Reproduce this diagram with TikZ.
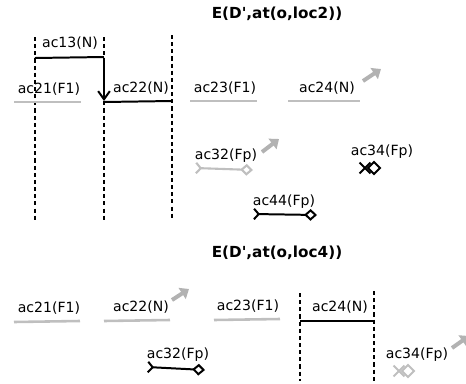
\documentclass[tikz,border=0pt]{standalone}
\usepackage{fontspec}
\setmainfont{DejaVu Sans}[Ligatures=TeXOff]
\usetikzlibrary{positioning,arrows.meta,shapes.geometric,shapes.misc}
\tikzset{
    lbl/.style={font=\fontsize{12}{14}\selectfont,inner sep=1pt},
    ttl/.style={font=\fontsize{13}{15}\selectfont\bfseries,inner sep=1pt},
    act/.style={line width=1.7pt,black},
    inact/.style={line width=2.2pt,black!25},
    life/.style={line width=1.8pt,dash pattern=on 3.5pt off 2.6pt},
    hint/.style={-{Triangle[length=7pt,width=11pt]},line width=3.4pt,black!30},
    fp/.style={{Straight Barb[reversed,length=4pt,width=9pt]}-{Diamond[open,length=11pt,width=10pt]}},
    xmark/.style={cross out,draw,line width=1.7pt,minimum size=7.5pt,inner sep=0pt},
    dmark/.style={diamond,draw,line width=1.7pt,minimum size=11pt,inner sep=0pt}
}

\begin{document}
\begin{tikzpicture}[x=0.03cm,y=-0.03cm]
  \useasboundingbox (0,0) rectangle (466,383);

  % E(D',at(o,loc2))
  \node[ttl] (T1) at (277,14) {E(D',at(o,loc2))};
  \coordinate (L1a) at (35,37);  \coordinate (L1b) at (35,220);
  \coordinate (L2a) at (104,37); \coordinate (L2b) at (104,220);
  \coordinate (L3a) at (172,35); \coordinate (L3b) at (172,220);
  \draw[life] (L1a) -- (L1b);
  \draw[life] (L2a) -- (L2b);
  \draw[life] (L3a) -- (L3b);

  \node[lbl] (A13) at (70,43) {ac13(N)};
  \coordinate (A13s) at (35,58); \coordinate (A13e) at (104,57);
  \draw[act] (A13s) -- (A13e);
  \coordinate (Dn) at (104,62); \coordinate (Up) at (104,101);
  \draw[act,-{Straight Barb[length=7pt,width=10pt]}] (Dn) -- (Up);

  \node[lbl] (A21) at (49,89) {ac21(F1)};
  \coordinate (A21s) at (14,102); \coordinate (A21e) at (81,102);
  \draw[inact] (A21s) -- (A21e);

  \node[lbl] (A22) at (141,88) {ac22(N)};
  \coordinate (A22s) at (104,102); \coordinate (A22e) at (172,101);
  \draw[act] (A22s) -- (A22e);

  \node[lbl] (A23) at (225,88) {ac23(F1)};
  \coordinate (A23s) at (190,101); \coordinate (A23e) at (257,101);
  \draw[inact] (A23s) -- (A23e);

  \node[lbl] (A24) at (327,88) {ac24(N)};
  \coordinate (A24s) at (288,101); \coordinate (A24e) at (360,101);
  \draw[inact] (A24s) -- (A24e);
  \coordinate (H24s) at (363,81); \coordinate (H24e) at (381,69);
  \draw[hint] (H24s) -- (H24e);

  \node[lbl] (A32) at (226,156) {ac32(Fp)};
  \coordinate (A32s) at (195,168); \coordinate (A32e) at (253,170);
  \draw[inact,line width=1.8pt,fp] (A32s) -- (A32e);
  \coordinate (H32s) at (262,152); \coordinate (H32e) at (279,139);
  \draw[hint] (H32s) -- (H32e);

  \node[lbl] (A34) at (382,152) {ac34(Fp)};
  \node[xmark] (X34) at (365,168) {};
  \node[dmark] (D34) at (374,168) {};

  \node[lbl] (A44) at (284,202) {ac44(Fp)};
  \coordinate (A44s) at (253,214); \coordinate (A44e) at (317,215);
  \draw[act,fp] (A44s) -- (A44e);

  % E(D',at(o,loc4))
  \node[ttl] (T2) at (277,253) {E(D',at(o,loc4))};
  \coordinate (L4a) at (300,293); \coordinate (L4b) at (300,381);
  \coordinate (L5a) at (374,291); \coordinate (L5b) at (374,381);
  \draw[life] (L4a) -- (L4b);
  \draw[life] (L5a) -- (L5b);

  \node[lbl] (B21) at (49,308) {ac21(F1)};
  \coordinate (B21s) at (14,322); \coordinate (B21e) at (80,321);
  \draw[inact] (B21s) -- (B21e);

  \node[lbl] (B22) at (141,307) {ac22(N)};
  \coordinate (B22s) at (104,321); \coordinate (B22e) at (170,320);
  \draw[inact] (B22s) -- (B22e);
  \coordinate (H22s) at (172,300); \coordinate (H22e) at (189,289);
  \draw[hint] (H22s) -- (H22e);

  \node[lbl] (B23) at (248,306) {ac23(F1)};
  \coordinate (B23s) at (214,320); \coordinate (B23e) at (280,319);
  \draw[inact] (B23s) -- (B23e);

  \node[lbl] (B24) at (340,307) {ac24(N)};
  \coordinate (B24s) at (300,321); \coordinate (B24e) at (373,321);
  \draw[act] (B24s) -- (B24e);

  \node[lbl] (B34) at (417,355) {ac34(Fp)};
  \node[xmark,black!25] (X34b) at (399,371) {};
  \node[dmark,black!25] (D34b) at (408,371) {};
  \coordinate (H34s) at (452,348); \coordinate (H34e) at (469,336);
  \draw[hint] (H34s) -- (H34e);

  \node[lbl] (B32) at (178,355) {ac32(Fp)};
  \coordinate (B32s) at (147,367); \coordinate (B32e) at (205,370);
  \draw[act,fp] (B32s) -- (B32e);
\end{tikzpicture}
\end{document}
